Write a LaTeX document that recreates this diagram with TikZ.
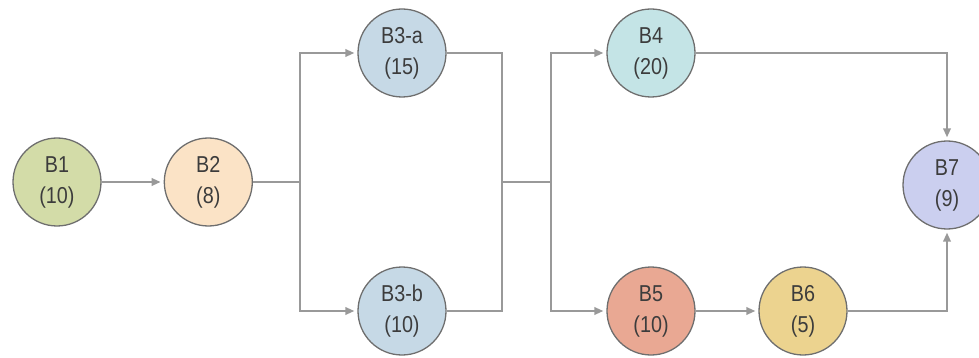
\documentclass[tikz,border=0pt]{standalone}
\usepackage{fontspec}
\setmainfont{Liberation Sans}
\newfontfamily\blockfont[FakeStretch=0.86]{Liberation Sans}
\usetikzlibrary{positioning,arrows.meta,calc}
\definecolor{edge}{HTML}{999999}
\definecolor{rim}{HTML}{6E6E6E}
\definecolor{ink}{HTML}{3C3C3C}
\definecolor{paleOlive}{HTML}{D3DCA8}
\definecolor{palePeach}{HTML}{FBE3C6}
\definecolor{paleSky}{HTML}{C6D9E6}
\definecolor{paleTeal}{HTML}{C4E4E6}
\definecolor{salmon}{HTML}{E9A893}
\definecolor{sand}{HTML}{ECD38F}
\definecolor{lavender}{HTML}{CBCFEF}
\tikzset{
  block/.style={circle, draw=rim, line width=1.3pt, minimum size=88pt, inner sep=0pt,
                align=center, text=ink, font=\blockfont\fontsize{23}{31}\selectfont},
  link/.style={line width=2pt, draw=edge},
  flow/.style={-{Triangle[length=9pt,width=7.5pt]}, line width=2pt, draw=edge, shorten >=3pt}
}
\begin{document}
\begin{tikzpicture}[x=1pt,y=-1pt,node distance=62pt]
\useasboundingbox (0,0) rectangle (979,358);
% blocks
\node[block, fill=paleOlive] (b1) at (57,182) {B1\\(10)};
\node[block, fill=palePeach, right=of b1] (b2) {B2\\(8)};
\node[block, fill=paleSky] (b3a) at (402,53) {B3-a\\(15)};
\node[block, fill=paleSky] (b3b) at (402,311) {B3-b\\(10)};
\node[block, fill=paleTeal] (b4) at (651,53) {B4\\(20)};
\node[block, fill=salmon] (b5) at (651,311) {B5\\(10)};
\node[block, fill=sand] (b6) at (803,311) {B6\\(5)};
\node[block, fill=lavender] (b7) at (947,185) {B7\\(9)};
% junctions
\coordinate (split) at (300,182);
\coordinate (merge) at (502,182);
\coordinate (fork) at (551,182);
% connectors
\draw[flow] (b1) -- (b2);
\draw[link] (b2) -- (split);
\draw[flow] (split) |- (b3a);
\draw[flow] (split) |- (b3b);
\draw[link] (b3a) -| (merge);
\draw[link] (b3b) -| (merge);
\draw[link] (merge) -- (fork);
\draw[flow] (fork) |- (b4);
\draw[flow] (fork) |- (b5);
\draw[flow] (b5) -- (b6);
\draw[flow] (b4) -| (b7);
\draw[flow] (b6) -| (b7);
\end{tikzpicture}
\end{document}
